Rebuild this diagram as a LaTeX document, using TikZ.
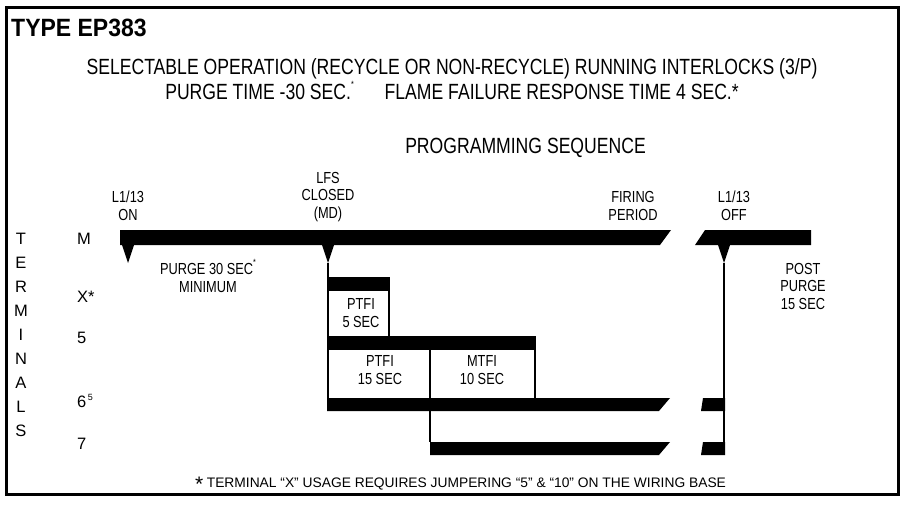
\documentclass[tikz,border=0pt]{standalone}
\usepackage{fontspec}
\setmainfont[FakeStretch=0.8]{Liberation Sans}
\newfontfamily\plainFont{Liberation Sans}
\newfontfamily\titleFont[FakeStretch=0.92]{Liberation Sans}
\usetikzlibrary{positioning,calc}
\newcommand{\smallStar}{\raisebox{0.55em}{\fontsize{9}{9}\selectfont *}}
\tikzset{
  frameLine/.style={
    draw=black,
    line width=3pt
 },
  barFill/.style={
    fill=black,
    draw=none
 },
  markTip/.style={
    fill=black,
    draw=none
 },
  timeLine/.style={
    draw=black,
    line width=1.3pt
 },
  titleText/.style={
    font=\titleFont\fontsize{25}{27}\selectfont\bfseries,
    inner sep=0pt
 },
  headText/.style={
    font=\fontsize{22}{24}\selectfont,
    inner sep=0pt
 },
  seqLabel/.style={
    font=\fontsize{16}{17.5}\selectfont,
    align=center,
    inner sep=0pt
 },
  termLabel/.style={
    font=\plainFont\fontsize{16.5}{18}\selectfont,
    inner sep=0pt
 },
  noteText/.style={
    font=\plainFont\fontsize{13.8}{16}\selectfont,
    inner sep=0pt
 }
}

\begin{document}
\begin{tikzpicture}[x=1pt,y=-1pt]
            \useasboundingbox (0,0) rectangle (904,508);
            % outer frame
            \draw[frameLine] (6,8) rectangle (898,494);

            % headings
            \node[titleText, anchor=base west] (title) at (11,37) {TYPE EP383};
            \node[headText, anchor=base] (headA) at (452,75) {SELECTABLE OPERATION (RECYCLE OR NON-RECYCLE) RUNNING INTERLOCKS (3/P)};
            \node[headText, anchor=base] (headB) at (452,100) {PURGE TIME -30 SEC.\smallStar\hspace{1.4em}FLAME FAILURE RESPONSE TIME 4 SEC.*};
            \node[headText, anchor=base east] (seqHead) at (646,153) {PROGRAMMING SEQUENCE};

            % terminals column
            \foreach \letter [count=\i from 0] in {T,E,R,M,I,N,A,L,S}
              \node[termLabel] (term-\i) at (21,239+24*\i) {\letter};
            \node[termLabel, anchor=west] (termM) at (77,239) {M};
            \node[termLabel, anchor=west] (termX) at (77,297) {X*};
            \node[termLabel, anchor=west] (termFive) at (77,338) {5};
            \node[termLabel, anchor=west] (termSix) at (77,401) {6\raisebox{0.45em}{\fontsize{9}{9}\selectfont\,5}};
            \node[termLabel, anchor=west] (termSeven) at (77,444) {7};

            % sequence labels
            \node[seqLabel] (lblOn) at (128,206) {L1/13\\ON};
            \node[seqLabel] (lblLfs) at (328,197) {LFS\\CLOSED\\(MD)};
            \node[seqLabel] (lblFiring) at (633,206) {FIRING\\PERIOD};
            \node[seqLabel] (lblOff) at (734,206) {L1/13\\OFF};
            \node[seqLabel] (lblPurge) at (208,276) {PURGE 30 SEC\smallStar\\MINIMUM};
            \node[seqLabel] (lblPost) at (803,286) {POST\\PURGE\\15 SEC};
            \node[seqLabel] (lblPtfiA) at (361,313) {PTFI\\5 SEC};
            \node[seqLabel] (lblPtfiB) at (380,370) {PTFI\\15 SEC};
            \node[seqLabel] (lblMtfi) at (482,370) {MTFI\\10 SEC};

            % M bar
            \fill[barFill] (120,230) -- (671,230) -- (660,245) -- (120,245) -- cycle;
            \fill[barFill] (705,230) -- (811,230) -- (811,245) -- (695,245) -- cycle;
            % X bar
            \fill[barFill] (327,277) rectangle (390,291);
            % 5 bar
            \fill[barFill] (327,336) rectangle (536,350);
            % 6 bar
            \fill[barFill] (327,398) -- (670,398) -- (659,411) -- (327,411) -- cycle;
            \fill[barFill] (703,398) -- (725,398) -- (725,411) -- (701,411) -- cycle;
            % 7 bar
            \fill[barFill] (430,442) -- (670,442) -- (659,455) -- (430,455) -- cycle;
            \fill[barFill] (703,442) -- (725,442) -- (725,455) -- (701,455) -- cycle;

            % event marks
            \coordinate (onTip) at (128,263);
            \coordinate (lfsTip) at (328,263);
            \coordinate (offTip) at (724,263);
            \foreach \tip in {onTip,lfsTip,offTip}
              \fill[markTip] (\tip) ++(-6,-18) -- ++(12,0) -- (\tip) -- cycle;

            % timing lines
            \draw[timeLine] (lfsTip) -- (328,398);
            \draw[timeLine] (389,291) -- (389,336);
            \draw[timeLine] (430,350) -- (430,442);
            \draw[timeLine] (535,350) -- (535,398);
            \draw[timeLine] (offTip) -- (724,455);

            % footnote
            \node[noteText, anchor=base west] (note) at (195,487) {\raisebox{-0.3em}{\fontsize{21}{21}\selectfont *}\hspace{0.25em}TERMINAL “X” USAGE REQUIRES JUMPERING “5” \& “10” ON THE WIRING BASE};
        \end{tikzpicture}
\end{document}
